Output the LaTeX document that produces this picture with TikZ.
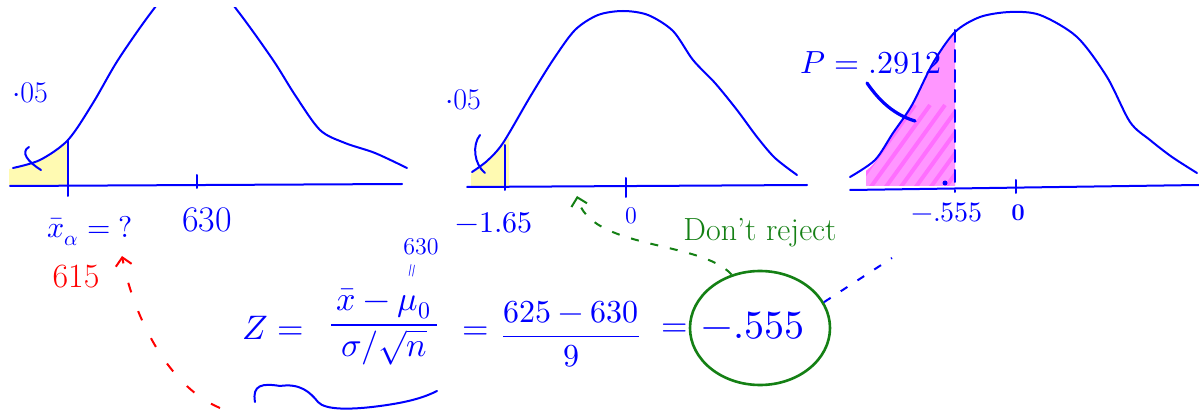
\documentclass[tikz,border=0pt]{standalone}
\usepackage{unicode-math}
\usetikzlibrary{shapes.geometric,arrows.meta}

\definecolor{inkblue}{RGB}{0,0,255}
\definecolor{inkgreen}{RGB}{20,128,20}
\definecolor{inkred}{RGB}{255,0,0}
\definecolor{hiyellow}{RGB}{255,250,178}
\definecolor{hipink}{RGB}{255,150,255}
\definecolor{hipinkdark}{RGB}{255,110,255}
\newcommand{\inkfont}[1]{\fontsize{#1}{#1}\selectfont}

\begin{document}
\begin{tikzpicture}[x=0.5pt,y=-0.5pt,
  pen/.style={inkblue,line width=1pt,line cap=round,line join=round},
  lbl/.style={inkblue,inner sep=0pt},
  ring/.style={ellipse,draw=inkgreen,line width=1.3pt,minimum width=70pt,minimum height=57pt,inner sep=0pt},
  link/.style={dashed,line width=1pt,dash pattern=on 4pt off 6pt}]

\useasboundingbox (0,0) rectangle (1199,411);
\fill[white] (0,0) rectangle (1199,411);

\fill[hiyellow] (9,186) -- plot[smooth] coordinates {(9,169) (40,161) (67,141)} -- (67,186) -- cycle;
\fill[hiyellow] (471,187) -- plot[smooth] coordinates {(471,174) (487,162) (503,144) (509,137)} -- (509,187) -- cycle;

\begin{scope}
\clip (866,186) -- plot[smooth] coordinates {(866,171) (876,161) (893,134) (912,106) (933,64) (955,33)} -- (955,186) -- cycle;
\fill[hipink] (850,0) rectangle (960,200);
\foreach \i in {835,850,...,960}
  \draw[hipinkdark,line width=2pt] (\i,195) -- ++(65,-90);
\end{scope}

\begin{scope}
\clip (0,8) rectangle (1199,411);
\draw[pen] plot[smooth] coordinates {(13,168) (40,160) (68,140) (93,103) (118,60) (153,10) (195,-40) (237,10) (273,60) (295,95) (320,130) (345,143) (375,153) (407,168)};
\draw[pen] plot[smooth] coordinates {(472,172) (487,161) (503,143) (530,97) (553,60) (575,30) (598,15) (623,11) (648,15) (673,31) (693,60) (715,83) (737,110) (757,137) (775,158) (797,175)};
\draw[pen] plot[smooth] coordinates {(850,177) (875,160) (893,133) (912,105) (933,63) (955,32) (980,17) (1010,12) (1040,15) (1077,37) (1107,77) (1130,122) (1150,140) (1172,157) (1197,173)};
\end{scope}

\draw[pen] (10,186) -- (402,184);
\draw[pen] (197,175) -- (197,188);
\draw[pen] (68,140) -- (68,196);
\draw[pen] (29,147) .. controls (20,152) and (28,162) .. (41,170);

\draw[pen] (467,187) -- (807,185);
\draw[pen] (626,178) -- (626,197);
\draw[pen] (505,145) -- (505,190);
\draw[pen] (480,135) .. controls (472,145) and (474,164) .. (485,173);

\draw[pen] (850,190) -- (1199,185);
\draw[pen] (1016,180) -- (1016,193);
\draw[pen,dash pattern=on 6pt off 4pt] (955,30) -- (955,192);
\fill[inkblue] (945,183) circle (2.5);

\node[lbl,font=\inkfont{15}] (alphaA) at (30,93) {$\cdot$05};
\node[lbl,font=\inkfont{15}] (alphaB) at (463,100) {$\cdot$05};
\node[lbl,font=\inkfont{15}] (xcrit) at (90,231) {$\bar{x}_\alpha = ?$};
\node[lbl,font=\inkfont{18}] (muA) at (207,220) {630};
\node[lbl,inkred,font=\inkfont{17}] (xfound) at (76,277) {615};
\node[lbl,font=\inkfont{15}] (zcrit) at (494,223) {$-1.65$};
\node[lbl,font=\inkfont{12}] (zeroB) at (631,216) {0};
\node[lbl,font=\inkfont{14}] (zobs) at (947,212) {$-.555$};
\node[lbl,font=\inkfont{12}\bfseries] (zeroC) at (1018,213) {0};
\node[lbl,font=\inkfont{16}] (pval) at (871,63) {$P=.2912$};
\node[lbl,inkgreen,font=\inkfont{16}] (keep) at (760,233) {Don't reject};

\node[lbl,font=\inkfont{17}] (zlhs) at (273,328) {$Z=$};
\node[lbl,font=\inkfont{17}] (zfrac) at (384,327) {$\dfrac{\,\bar{x}-\mu_0\,}{\sigma/\sqrt{n}}$};
\node[lbl,font=\inkfont{12}] (munull) at (421,247) {630};
\node[lbl,font=\inkfont{9},rotate=80] (mueq) at (413,271) {$=$};
\node[lbl,font=\inkfont{17}] (eqA) at (476,333) {$=$};
\node[lbl,font=\inkfont{16}] (zvals) at (571,334) {$\dfrac{625-630}{9}$};
\node[lbl,font=\inkfont{17}] (eqB) at (675,330) {$=$};
\node[lbl,font=\inkfont{20}] (zval) at (753,326) {$-.555$};
\node[ring] (zring) at (760,328) {};

\draw[pen] (255,402) .. controls (252,385) and (262,383) .. (280,386) .. controls (300,383) and (310,392) .. (318,402) .. controls (325,410) and (350,410) .. (380,406) .. controls (410,402) and (425,397) .. (437,391);
\draw[pen,line width=1.6pt] (867,83) .. controls (880,102) and (895,115) .. (915,121);

\coordinate (redend) at (220,408);
\coordinate (redtip) at (122,256);
\coordinate (greentip) at (577,196);
\coordinate (bluend) at (892,258);

\draw[inkred,link,dash pattern=on 5pt off 10pt,-{Straight Barb[length=4pt]}] (redend) .. controls (165,385) and (132,310) .. (redtip);
\draw[inkgreen,link,-{Straight Barb[length=4pt]}] (zring.118) .. controls (700,240) and (590,250) .. (greentip);
\draw[inkblue,link] (zring.22) -- (bluend);

\end{tikzpicture}
\end{document}
